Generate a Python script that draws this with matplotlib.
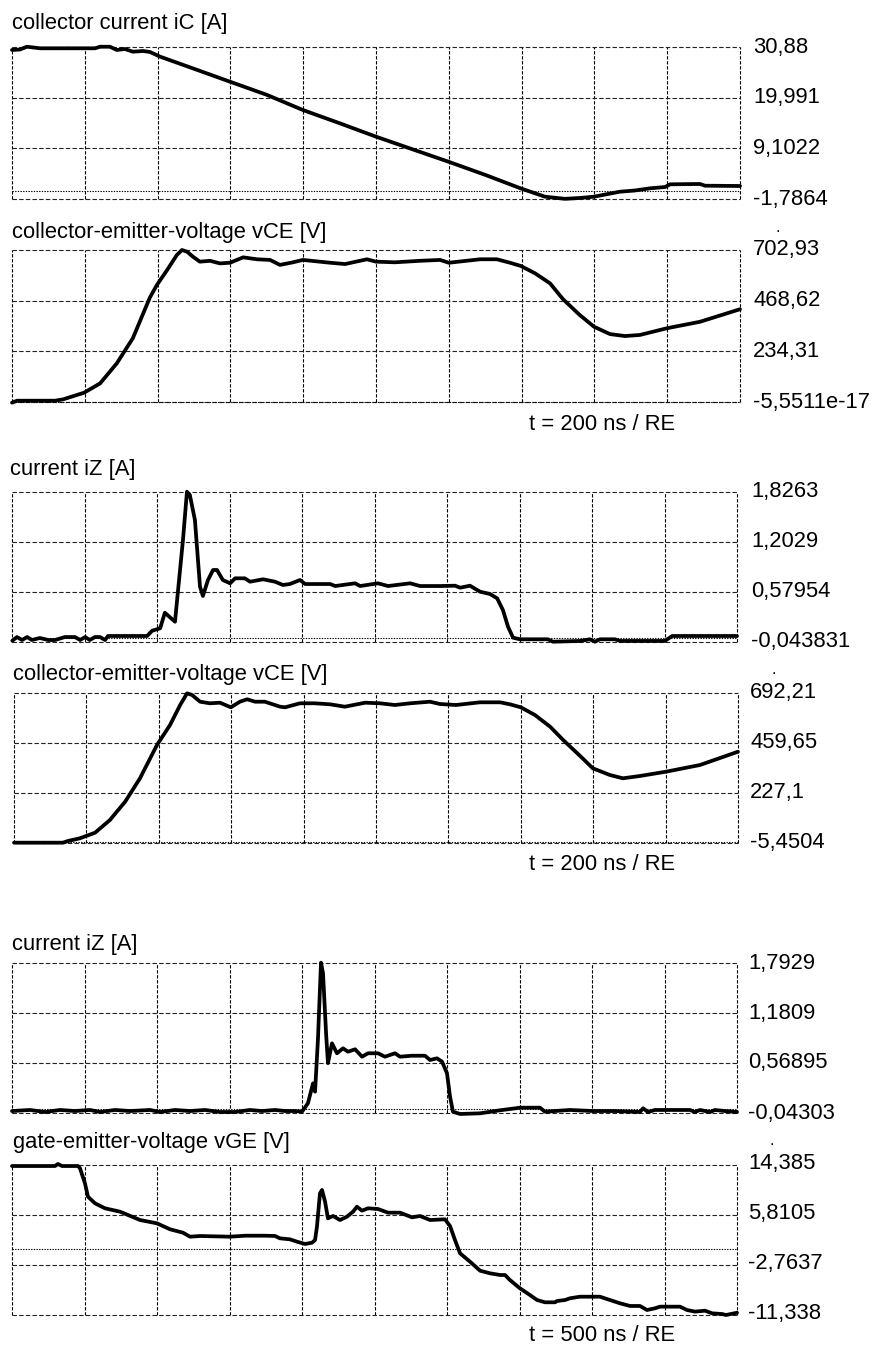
import matplotlib
matplotlib.use("Agg")
import matplotlib.pyplot as plt

plt.rcParams['font.family'] = ['Liberation Sans', 'DejaVu Sans']

# ---------------- data ----------------
# panel 1: collector current iC [A], time in ns (200 ns / div)
iC_t = [0, 22, 41, 77, 228, 242, 269, 288, 310, 332, 360, 379, 407, 500, 599, 700, 799, 900,
        1000, 1100, 1199, 1300, 1397, 1464, 1519, 1560, 1599, 1637, 1670, 1711, 1753, 1794,
        1808, 1890, 1904, 2000]
iC_v = [30.24, 30.34, 30.94, 30.60, 30.60, 30.94, 30.94, 30.24, 30.45, 29.87, 30.02, 29.81,
        28.80, 26.2, 23.42, 20.6, 17.34, 14.5, 11.61, 8.9, 6.23, 3.4, 0.51, -1.29, -1.75,
        -1.57, -1.29, -0.71, -0.22, 0.04, 0.51, 0.79, 1.37, 1.44, 1.07, 1.01]
iC_ticks = [-1.7864, 9.1022, 19.991, 30.88]
iC_labels = ["-1,7864", "9,1022", "19,991", "30,88"]

# panel 2: collector-emitter voltage vCE [V]
vce1_t = [0, 14, 118, 140, 198, 242, 288, 332, 379, 398, 426, 453, 467, 481, 497, 516, 544,
          571, 599, 635, 673, 709, 736, 772, 799, 874, 915, 956, 975, 1000, 1052, 1121, 1176,
          1200, 1286, 1332, 1368, 1398, 1437, 1478, 1514, 1560, 1599, 1643, 1684, 1725, 1799,
          1890, 2000]
vce1_v = [-3, 6, 6, 12, 43, 86, 179, 295, 484, 541, 610, 680, 703, 695, 672, 649, 653, 641,
          644, 669, 660, 657, 634, 646, 657, 644, 638, 653, 660, 649, 646, 653, 657, 644, 660,
          660, 644, 629, 595, 549, 475, 402, 348, 314, 305, 310, 341, 371, 429]
vce1_ticks = [-5.5511e-17, 234.31, 468.62, 702.93]
vce1_labels = ["-5,5511e-17", "234,31", "468,62", "702,93"]

# panel 3: current iZ [A]
iz1_t = [0, 13, 27, 41, 54, 76, 99, 118, 145, 173, 187, 201, 214, 228, 242, 256, 264, 372,
         386, 408, 421, 449, 471, 482, 490, 504, 518, 526, 540, 554, 565, 581, 601, 615, 642,
         656, 692, 725, 747, 766, 794, 808, 877, 891, 946, 960, 1009, 1037, 1098, 1125, 1180,
         1222, 1236, 1263, 1291, 1318, 1338, 1354, 1368, 1382, 1401, 1478, 1492, 1567, 1594,
         1608, 1622, 1663, 1677, 1801, 1821, 2000]
iz1_v = [-0.028, 0.018, -0.019, 0.018, -0.019, 0.006, -0.019, -0.019, 0.018, 0.018, -0.019,
         0.018, -0.019, 0.018, 0.018, -0.019, 0.031, 0.031, 0.097, 0.127, 0.321, 0.209, 1.228,
         1.830, 1.789, 1.477, 0.646, 0.530, 0.729, 0.854, 0.854, 0.729, 0.688, 0.750, 0.750,
         0.708, 0.738, 0.708, 0.667, 0.679, 0.729, 0.679, 0.679, 0.654, 0.688, 0.654, 0.688,
         0.654, 0.688, 0.654, 0.654, 0.658, 0.633, 0.658, 0.583, 0.555, 0.501, 0.355, 0.147,
         0.010, -0.010, -0.010, -0.040, -0.031, -0.010, -0.040, -0.010, -0.010, -0.031,
         -0.031, 0.031, 0.031]
iz1_ticks = [-0.043831, 0.57954, 1.2029, 1.8263]
iz1_labels = ["-0,043831", "0,57954", "1,2029", "1,8263"]

# panel 4: collector-emitter voltage vCE [V]
vce2_t = [0, 135, 149, 182, 224, 265, 307, 348, 395, 431, 459, 478, 492, 514, 541, 569, 599,
          624, 644, 666, 693, 735, 749, 790, 831, 873, 914, 970, 1011, 1052, 1094, 1149, 1177,
          1221, 1287, 1343, 1370, 1400, 1439, 1481, 1517, 1564, 1599, 1646, 1682, 1729, 1801,
          1895, 2000]
vce2_v = [-4, -4, 3.9, 16.4, 42.5, 101.5, 186.6, 295.5, 450.4, 543.4, 636.4, 690.8, 682.9,
          651.7, 644.3, 647.1, 625.7, 651.7, 662.9, 651.7, 651.7, 628.5, 625.7, 644.3, 644.3,
          639.6, 628.5, 647.1, 644.3, 636.4, 644.3, 651.7, 641.0, 636.4, 648.9, 648.9, 639.6,
          625.7, 589.9, 535.5, 473.6, 399.2, 342.0, 310.8, 295.5, 306.2, 326.2, 357.3, 419.2]
vce2_ticks = [-5.4504, 227.1, 459.65, 692.21]
vce2_labels = ["-5,4504", "227,1", "459,65", "692,21"]

# panel 5: current iZ [A], 500 ns / div
iz2_t = [0, 124, 228, 331, 434, 538, 607, 710, 814, 952, 1021, 1124, 1228, 1331, 1434, 1538,
         1641, 1724, 1814, 1883, 1952, 2000, 2041, 2076, 2090, 2110, 2131, 2145, 2166, 2179,
         2207, 2241, 2283, 2317, 2366, 2414, 2455, 2524, 2572, 2641, 2676, 2759, 2848, 2883,
         2931, 2966, 3000, 3021, 3041, 3090, 3228, 3345, 3503, 3641, 3676, 3848, 4007, 4159,
         4331, 4352, 4386, 4434, 4676, 4710, 4745, 4814, 4848, 4917, 5000]
iz2_v = [-0.019, -0.006, -0.031, -0.006, -0.019, -0.006, -0.031, -0.006, -0.019, -0.006,
         -0.031, -0.006, -0.019, -0.006, -0.031, -0.031, -0.006, -0.019, -0.006, -0.019,
         -0.019, -0.027, 0.076, 0.320, 0.218, 0.860, 1.797, 1.667, 0.932, 0.567,
         0.810, 0.688, 0.749, 0.707, 0.737, 0.646, 0.688, 0.688, 0.646, 0.688,
         0.646, 0.658, 0.658, 0.606, 0.626, 0.585, 0.443, 0.156, -0.027, -0.055,
         -0.047, -0.015, 0.022, 0.022, -0.027, -0.006, -0.019, -0.019, -0.031, 0.015,
         -0.031, -0.006, -0.006, -0.031, -0.006, -0.031, -0.006, -0.019, -0.031]
iz2_ticks = [-0.04303, 0.56895, 1.1809, 1.7929]
iz2_labels = ["-0,04303", "0,56895", "1,1809", "1,7929"]

# panel 6: gate-emitter voltage vGE [V]
vge_t = [0, 297, 317, 345, 455, 469, 503, 524, 572, 641, 745, 883, 1000, 1090, 1179, 1228,
         1297, 1503, 1607, 1745, 1814, 1848, 1917, 1966, 2021, 2069, 2090, 2103, 2124, 2138,
         2159, 2179, 2214, 2262, 2310, 2352, 2379, 2414, 2455, 2524, 2593, 2676, 2759, 2814,
         2883, 2986, 3021, 3055, 3090, 3159, 3228, 3297, 3366, 3400, 3434, 3503, 3572, 3621,
         3676, 3745, 3759, 3814, 3848, 3917, 4055, 4124, 4193, 4262, 4331, 4379, 4434, 4469,
         4607, 4655, 4710, 4779, 4828, 4897, 4924, 5000]
vge_v = [14.21, 14.21, 14.56, 14.21, 14.21, 13.82, 11.25, 8.95, 7.82, 6.96, 6.38, 4.95, 4.38,
         3.36, 2.78, 2.09, 2.21, 2.09, 2.26, 2.26, 2.21, 1.81, 1.64, 1.23, 0.84, 1.06, 1.52,
         3.80, 9.53, 10.10, 8.09, 5.24, 5.64, 4.95, 5.52, 6.38, 7.23, 6.55, 6.96, 6.84, 6.21,
         6.21, 5.41, 5.64, 4.95, 5.07, 3.92, 1.52, -0.76, -2.20, -3.74, -4.19, -4.48, -4.48,
         -5.34, -6.76, -7.91, -8.77, -9.16, -9.16, -8.94, -8.77, -8.47, -8.20, -8.20, -8.77,
         -9.33, -9.79, -9.79, -10.48, -10.19, -9.91, -9.91, -10.48, -10.76, -10.60, -11.05,
         -11.17, -11.34, -10.95]
vge_ticks = [-11.338, -2.7637, 5.8105, 14.385]
vge_labels = ["-11,338", "-2,7637", "5,8105", "14,385"]

titles = ["collector current iC [A]", "collector-emitter-voltage vCE [V]", "current iZ [A]",
          "collector-emitter-voltage vCE [V]", "current iZ [A]", "gate-emitter-voltage vGE [V]"]
time_labels = ["t = 200 ns / RE", "t = 200 ns / RE", "t = 500 ns / RE"]

# ---------------- figure ----------------
W, H = 873, 1346
FS = 15.8
PX = 0.72  # points per pixel at dpi 100
fig = plt.figure(figsize=(W / 100, H / 100), dpi=100)


def panel(box, t, v, tmax, ticks, labels, title, title_xy, lab_dx, lab_dy):
    x0, y0, x1, y1 = box
    ax = fig.add_axes([x0 / W, 1 - y1 / H, (x1 - x0) / W, (y1 - y0) / H])
    ax.set_xlim(0, tmax)
    ax.set_ylim(ticks[0], ticks[-1])
    ax.axis('off')
    for k in range(11):
        ax.axvline(tmax * k / 10, color='black', lw=0.8, ls=(0, (3, 1.5)), clip_on=False, zorder=1)
    for lv in ticks:
        ax.axhline(lv, color='#222222', lw=0.8, ls=(0, (4, 2)), clip_on=False, zorder=1)
    if ticks[0] <= 0 <= ticks[-1]:
        ax.axhline(0, color='black', lw=0.8, ls=(0, (1.2, 1.2)), clip_on=False, zorder=1)
    ax.plot(t, v, color='black', lw=2.7, solid_joinstyle='round', solid_capstyle='round',
            clip_on=False, zorder=3)
    for lv, lab in zip(ticks, labels):
        ax.annotate(lab, xy=(1, lv), xycoords=('axes fraction', 'data'),
                    xytext=(lab_dx * PX, -lab_dy * PX), textcoords='offset points',
                    ha='left', va='baseline', fontsize=FS, annotation_clip=False)
    fig.text(title_xy[0] / W, 1 - title_xy[1] / H, title, ha='left', va='baseline', fontsize=FS)
    return ax


panel((12, 47, 740, 199), iC_t, iC_v, 2000, iC_ticks, iC_labels, titles[0], (11.7, 29.5), 13, 5.5)
panel((12, 250, 740, 402), vce1_t, vce1_v, 2000, vce1_ticks, vce1_labels, titles[1], (11.7, 238), 13, 5.5)
panel((12.3, 492, 737, 642), iz1_t, iz1_v, 2000, iz1_ticks, iz1_labels, titles[2], (10, 475), 14, 5.3)
panel((14, 693, 738, 843), vce2_t, vce2_v, 2000, vce2_ticks, vce2_labels, titles[3], (13.3, 680), 12, 4.7)
panel((12, 963, 737, 1113), iz2_t, iz2_v, 5000, iz2_ticks, iz2_labels, titles[4], (12, 950), 11, 5.5)
panel((12, 1165, 737, 1315), vge_t, vge_v, 5000, vge_ticks, vge_labels, titles[5], (13.3, 1148), 11, 3.5)

for lab, yb in zip(time_labels, [430, 870, 1341]):
    fig.text(602.5 / W, 1 - yb / H, lab, ha='center', va='baseline', fontsize=FS)

# small dots above some top labels
for dx, dy in [(778, 232), (774, 674), (771.5, 1145)]:
    fig.text(dx / W, 1 - dy / H, '.', ha='center', va='baseline', fontsize=12)

fig.savefig('out.png', dpi=100)
